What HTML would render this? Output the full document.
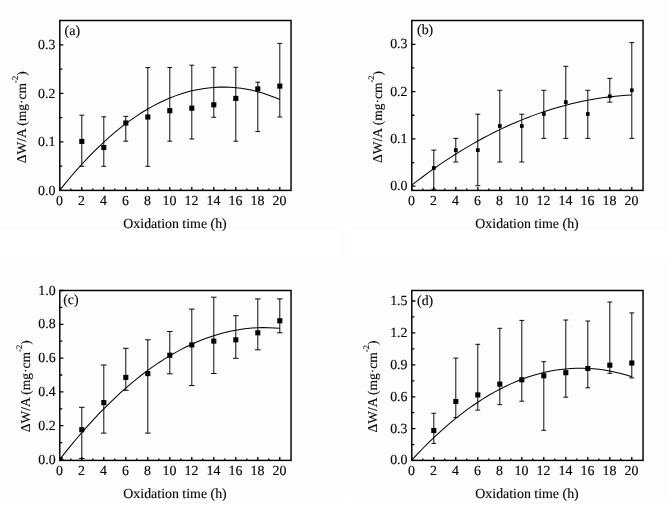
<!DOCTYPE html>
<html><head><meta charset="utf-8"><title>Oxidation kinetics</title>
<style>
html,body{margin:0;padding:0;background:#fff;}
svg{display:block;}
text{font-family:"Liberation Serif","Times New Roman",serif;font-size:13.9px;fill:#000;stroke:#000;stroke-width:0.12;text-rendering:geometricPrecision;}
.fr{fill:none;stroke:#000;stroke-width:1.45;}
.tk{stroke:#000;stroke-width:1.3;fill:none;}
.eb{stroke:#000;stroke-width:0.95;fill:none;}
.cv{stroke:#000;stroke-width:1.02;fill:none;}
.mk{fill:#000;}
</style></head><body>
<svg width="669" height="506" viewBox="0 0 669 506">
<rect x="0" y="0" width="669" height="506" fill="#ffffff"/>
<g fill="#fdfdfd" shape-rendering="crispEdges"><rect x="0" y="0" width="338" height="230"/><rect x="351" y="0" width="318" height="230"/><rect x="0" y="263" width="338" height="237"/><rect x="351" y="263" width="318" height="237"/><rect x="338" y="230" width="13" height="33" fill="#fefefe"/></g>

<g id="panel-a">
<path class="cv" d="M59.8 190.16 L65.3 183.33 L70.8 176.73 L76.3 170.37 L81.8 164.25 L87.3 158.35 L92.8 152.7 L98.3 147.27 L103.8 142.08 L109.3 137.12 L114.8 132.4 L120.3 127.91 L125.8 123.66 L131.3 119.63 L136.8 115.85 L142.3 112.29 L147.8 108.98 L153.3 105.89 L158.8 103.04 L164.3 100.42 L169.8 98.04 L175.3 95.89 L180.8 93.97 L186.3 92.29 L191.8 90.85 L197.3 89.63 L202.8 88.65 L208.3 87.91 L213.8 87.4 L219.3 87.12 L224.8 87.08 L230.3 87.27 L235.8 87.69 L241.3 88.35 L246.8 89.24 L252.3 90.37 L257.8 91.73 L263.3 93.32 L268.8 95.15 L274.3 97.21 L279.8 99.51"/>
<path class="eb" d="M81.8 115.2V166.3M79.4 115.2H84.2M79.4 166.3H84.2M103.8 116.8V166.3M101.4 116.8H106.2M101.4 166.3H106.2M125.8 116.4V141.2M123.4 116.4H128.2M123.4 141.2H128.2M147.8 67.6V166.3M145.4 67.6H150.2M145.4 166.3H150.2M169.8 67.5V141.2M167.4 67.5H172.2M167.4 141.2H172.2M191.8 65.2V139M189.4 65.2H194.2M189.4 139H194.2M213.8 67.3V117.3M211.4 67.3H216.2M211.4 117.3H216.2M235.8 67.3V141.2M233.4 67.3H238.2M233.4 141.2H238.2M257.8 82.2V131.6M255.4 82.2H260.2M255.4 131.6H260.2M279.8 43.4V117M277.4 43.4H282.2M277.4 117H282.2"/>
<rect class="mk" x="79.25" y="138.85" width="5.1" height="5.1"/>
<rect class="mk" x="101.25" y="144.95" width="5.1" height="5.1"/>
<rect class="mk" x="123.25" y="120.45" width="5.1" height="5.1"/>
<rect class="mk" x="145.25" y="114.45" width="5.1" height="5.1"/>
<rect class="mk" x="167.25" y="108.15" width="5.1" height="5.1"/>
<rect class="mk" x="189.25" y="105.65" width="5.1" height="5.1"/>
<rect class="mk" x="211.25" y="102.25" width="5.1" height="5.1"/>
<rect class="mk" x="233.25" y="95.85" width="5.1" height="5.1"/>
<rect class="mk" x="255.25" y="86.35" width="5.1" height="5.1"/>
<rect class="mk" x="277.25" y="83.55" width="5.1" height="5.1"/>
<path class="tk" d="M59.8 190.4H63.4M59.8 141.95H63.4M59.8 93.45H63.4M59.8 44.95H63.4M59.8 166.2H62.3M59.8 117.7H62.3M59.8 69.2H62.3M59.8 190.4V187M70.8 190.4V188.4M81.8 190.4V187M92.8 190.4V188.4M103.8 190.4V187M114.8 190.4V188.4M125.8 190.4V187M136.8 190.4V188.4M147.8 190.4V187M158.8 190.4V188.4M169.8 190.4V187M180.8 190.4V188.4M191.8 190.4V187M202.8 190.4V188.4M213.8 190.4V187M224.8 190.4V188.4M235.8 190.4V187M246.8 190.4V188.4M257.8 190.4V187M268.8 190.4V188.4M279.8 190.4V187"/>
<rect class="fr" x="59.8" y="20.5" width="231.25" height="169.9"/>
<text x="55.4" y="194.65" text-anchor="end">0.0</text>
<text x="55.4" y="146.2" text-anchor="end">0.1</text>
<text x="55.4" y="97.7" text-anchor="end">0.2</text>
<text x="55.4" y="49.2" text-anchor="end">0.3</text>
<text x="59.5" y="205.2" text-anchor="middle">0</text>
<text x="81.5" y="205.2" text-anchor="middle">2</text>
<text x="103.5" y="205.2" text-anchor="middle">4</text>
<text x="125.5" y="205.2" text-anchor="middle">6</text>
<text x="147.5" y="205.2" text-anchor="middle">8</text>
<text x="169.5" y="205.2" text-anchor="middle">10</text>
<text x="191.5" y="205.2" text-anchor="middle">12</text>
<text x="213.5" y="205.2" text-anchor="middle">14</text>
<text x="235.5" y="205.2" text-anchor="middle">16</text>
<text x="257.5" y="205.2" text-anchor="middle">18</text>
<text x="279.5" y="205.2" text-anchor="middle">20</text>
<text x="175.03" y="228" text-anchor="middle">Oxidation time (h)</text>
<text transform="translate(26 117.2) rotate(-90)" text-anchor="middle" style="font-size:13.5px">ΔW/A (mg·cm<tspan dy="-7.6" style="font-size:8.6px">-2</tspan><tspan dy="7.6">)</tspan></text>
<text x="64.6" y="34.8">(a)</text>
</g>
<g id="panel-b">
<path class="cv" d="M411.8 185.15 L417.3 180.9 L422.8 176.75 L428.3 172.7 L433.8 168.76 L439.3 164.93 L444.8 161.2 L450.3 157.57 L455.8 154.05 L461.3 150.64 L466.8 147.33 L472.3 144.12 L477.8 141.02 L483.3 138.02 L488.8 135.12 L494.3 132.32 L499.8 129.63 L505.3 127.04 L510.8 124.55 L516.3 122.17 L521.8 119.88 L527.3 117.7 L532.8 115.61 L538.3 113.63 L543.8 111.75 L549.3 109.96 L554.8 108.28 L560.3 106.7 L565.8 105.21 L571.3 103.83 L576.8 102.54 L582.3 101.35 L587.8 100.26 L593.3 99.27 L598.8 98.37 L604.3 97.58 L609.8 96.88 L615.3 96.27 L620.8 95.76 L626.3 95.35 L631.8 95.04"/>
<path class="eb" d="M433.8 150.1V189.3M431.3 150.1H436.3M431.3 189.3H436.3M455.8 138.4V162M453.3 138.4H458.3M453.3 162H458.3M477.8 114.2V185.7M475.3 114.2H480.3M475.3 185.7H480.3M499.8 90.3V162M497.3 90.3H502.3M497.3 162H502.3M521.8 114.2V162M519.3 114.2H524.3M519.3 162H524.3M543.8 90.3V138.4M541.3 90.3H546.3M541.3 138.4H546.3M565.8 66.3V138.4M563.3 66.3H568.3M563.3 138.4H568.3M587.8 90.3V138.4M585.3 90.3H590.3M585.3 138.4H590.3M609.8 78.4V102.1M607.3 78.4H612.3M607.3 102.1H612.3M631.8 42.6V138.4M629.3 42.6H634.3M629.3 138.4H634.3"/>
<rect class="mk" x="431.95" y="166.15" width="3.7" height="3.7"/>
<rect class="mk" x="453.95" y="148.25" width="3.7" height="3.7"/>
<rect class="mk" x="475.95" y="148.25" width="3.7" height="3.7"/>
<rect class="mk" x="497.95" y="124.15" width="3.7" height="3.7"/>
<rect class="mk" x="519.95" y="124.15" width="3.7" height="3.7"/>
<rect class="mk" x="541.95" y="112.15" width="3.7" height="3.7"/>
<rect class="mk" x="563.95" y="100.25" width="3.7" height="3.7"/>
<rect class="mk" x="585.95" y="112.15" width="3.7" height="3.7"/>
<rect class="mk" x="607.95" y="94.45" width="3.7" height="3.7"/>
<rect class="mk" x="629.95" y="88.45" width="3.7" height="3.7"/>
<path class="tk" d="M411.8 186.2H415.4M411.8 138.9H415.4M411.8 91.6H415.4M411.8 44.3H415.4M411.8 162.55H414.3M411.8 115.25H414.3M411.8 67.95H414.3M411.8 190.4V187M422.8 190.4V188.4M433.8 190.4V187M444.8 190.4V188.4M455.8 190.4V187M466.8 190.4V188.4M477.8 190.4V187M488.8 190.4V188.4M499.8 190.4V187M510.8 190.4V188.4M521.8 190.4V187M532.8 190.4V188.4M543.8 190.4V187M554.8 190.4V188.4M565.8 190.4V187M576.8 190.4V188.4M587.8 190.4V187M598.8 190.4V188.4M609.8 190.4V187M620.8 190.4V188.4M631.8 190.4V187"/>
<rect class="fr" x="411.8" y="20.5" width="231.25" height="169.9"/>
<text x="407.5" y="190.15" text-anchor="end">0.0</text>
<text x="407.5" y="142.85" text-anchor="end">0.1</text>
<text x="407.5" y="95.55" text-anchor="end">0.2</text>
<text x="407.5" y="48.25" text-anchor="end">0.3</text>
<text x="411.5" y="205.1" text-anchor="middle">0</text>
<text x="433.5" y="205.1" text-anchor="middle">2</text>
<text x="455.5" y="205.1" text-anchor="middle">4</text>
<text x="477.5" y="205.1" text-anchor="middle">6</text>
<text x="499.5" y="205.1" text-anchor="middle">8</text>
<text x="521.5" y="205.1" text-anchor="middle">10</text>
<text x="543.5" y="205.1" text-anchor="middle">12</text>
<text x="565.5" y="205.1" text-anchor="middle">14</text>
<text x="587.5" y="205.1" text-anchor="middle">16</text>
<text x="609.5" y="205.1" text-anchor="middle">18</text>
<text x="631.5" y="205.1" text-anchor="middle">20</text>
<text x="527.02" y="228" text-anchor="middle">Oxidation time (h)</text>
<text transform="translate(381.8 116.9) rotate(-90)" text-anchor="middle" style="font-size:13.5px">ΔW/A (mg·cm<tspan dy="-7.6" style="font-size:8.6px">-2</tspan><tspan dy="7.6">)</tspan></text>
<text x="417" y="34.3">(b)</text>
</g>
<g id="panel-c">
<path class="cv" d="M59.8 459.39 L65.3 452.4 L70.8 445.6 L76.3 438.99 L81.8 432.57 L87.3 426.34 L92.8 420.3 L98.3 414.45 L103.8 408.79 L109.3 403.33 L114.8 398.05 L120.3 392.96 L125.8 388.07 L131.3 383.36 L136.8 378.85 L142.3 374.52 L147.8 370.39 L153.3 366.45 L158.8 362.7 L164.3 359.13 L169.8 355.76 L175.3 352.58 L180.8 349.59 L186.3 346.79 L191.8 344.18 L197.3 341.76 L202.8 339.53 L208.3 337.5 L213.8 335.65 L219.3 333.99 L224.8 332.52 L230.3 331.25 L235.8 330.16 L241.3 329.27 L246.8 328.56 L252.3 328.05 L257.8 327.73 L263.3 327.59 L268.8 327.65 L274.3 327.9 L279.8 328.34"/>
<path class="eb" d="M81.8 407.3V458.5M79 407.3H84.6M79 458.5H84.6M103.8 365V433.1M101 365H106.6M101 433.1H106.6M125.8 348.3V390.3M123 348.3H128.6M123 390.3H128.6M147.8 339.8V433.1M145 339.8H150.6M145 433.1H150.6M169.8 331.5V373.8M167 331.5H172.6M167 373.8H172.6M191.8 309.1V385.6M189 309.1H194.6M189 385.6H194.6M213.8 297.2V373.5M211 297.2H216.6M211 373.5H216.6M235.8 315.7V358.3M233 315.7H238.6M233 358.3H238.6M257.8 298.9V349.8M255 298.9H260.6M255 349.8H260.6M279.8 298.9V332.8M277 298.9H282.6M277 332.8H282.6"/>
<rect class="mk" x="79.25" y="427.15" width="5.1" height="5.1"/>
<rect class="mk" x="101.25" y="400.05" width="5.1" height="5.1"/>
<rect class="mk" x="123.25" y="374.85" width="5.1" height="5.1"/>
<rect class="mk" x="145.25" y="371.05" width="5.1" height="5.1"/>
<rect class="mk" x="167.25" y="352.65" width="5.1" height="5.1"/>
<rect class="mk" x="189.25" y="342.35" width="5.1" height="5.1"/>
<rect class="mk" x="211.25" y="338.55" width="5.1" height="5.1"/>
<rect class="mk" x="233.25" y="337.25" width="5.1" height="5.1"/>
<rect class="mk" x="255.25" y="330.25" width="5.1" height="5.1"/>
<rect class="mk" x="277.25" y="318.25" width="5.1" height="5.1"/>
<rect class="mk" x="59.4" y="457.1" width="3.2" height="3.2"/>
<path class="tk" d="M59.8 459.5H63.4M59.8 425.7H63.4M59.8 391.9H63.4M59.8 358.1H63.4M59.8 324.3H63.4M59.8 290.5H63.4M59.8 442.6H62.3M59.8 408.8H62.3M59.8 375H62.3M59.8 341.2H62.3M59.8 307.4H62.3M59.8 460.4V457M70.8 460.4V458.4M81.8 460.4V457M92.8 460.4V458.4M103.8 460.4V457M114.8 460.4V458.4M125.8 460.4V457M136.8 460.4V458.4M147.8 460.4V457M158.8 460.4V458.4M169.8 460.4V457M180.8 460.4V458.4M191.8 460.4V457M202.8 460.4V458.4M213.8 460.4V457M224.8 460.4V458.4M235.8 460.4V457M246.8 460.4V458.4M257.8 460.4V457M268.8 460.4V458.4M279.8 460.4V457"/>
<rect class="fr" x="59.8" y="290.5" width="231.25" height="169.9"/>
<text x="55.6" y="463.5" text-anchor="end">0.0</text>
<text x="55.6" y="429.7" text-anchor="end">0.2</text>
<text x="55.6" y="395.9" text-anchor="end">0.4</text>
<text x="55.6" y="362.1" text-anchor="end">0.6</text>
<text x="55.6" y="328.3" text-anchor="end">0.8</text>
<text x="55.6" y="294.5" text-anchor="end">1.0</text>
<text x="59.5" y="475.1" text-anchor="middle">0</text>
<text x="81.5" y="475.1" text-anchor="middle">2</text>
<text x="103.5" y="475.1" text-anchor="middle">4</text>
<text x="125.5" y="475.1" text-anchor="middle">6</text>
<text x="147.5" y="475.1" text-anchor="middle">8</text>
<text x="169.5" y="475.1" text-anchor="middle">10</text>
<text x="191.5" y="475.1" text-anchor="middle">12</text>
<text x="213.5" y="475.1" text-anchor="middle">14</text>
<text x="235.5" y="475.1" text-anchor="middle">16</text>
<text x="257.5" y="475.1" text-anchor="middle">18</text>
<text x="279.5" y="475.1" text-anchor="middle">20</text>
<text x="175.03" y="498" text-anchor="middle">Oxidation time (h)</text>
<text transform="translate(29.9 386.2) rotate(-90)" text-anchor="middle" style="font-size:13.5px">ΔW/A (mg·cm<tspan dy="-7.6" style="font-size:8.6px">-2</tspan><tspan dy="7.6">)</tspan></text>
<text x="63.2" y="304.3">(c)</text>
</g>
<g id="panel-d">
<path class="cv" d="M411.8 460.08 L417.3 454.18 L422.8 448.48 L428.3 442.97 L433.8 437.66 L439.3 432.54 L444.8 427.62 L450.3 422.9 L455.8 418.37 L461.3 414.03 L466.8 409.9 L472.3 405.96 L477.8 402.21 L483.3 398.66 L488.8 395.31 L494.3 392.15 L499.8 389.18 L505.3 386.42 L510.8 383.85 L516.3 381.47 L521.8 379.29 L527.3 377.31 L532.8 375.52 L538.3 373.93 L543.8 372.53 L549.3 371.33 L554.8 370.32 L560.3 369.51 L565.8 368.9 L571.3 368.48 L576.8 368.26 L582.3 368.23 L587.8 368.4 L593.3 368.77 L598.8 369.33 L604.3 370.09 L609.8 371.04 L615.3 372.19 L620.8 373.53 L626.3 375.07 L631.8 376.8"/>
<path class="eb" d="M433.8 413.3V443.4M431.4 413.3H436.2M431.4 443.4H436.2M455.8 358.1V417.5M453.4 358.1H458.2M453.4 417.5H458.2M477.8 344.3V410.1M475.4 344.3H480.2M475.4 410.1H480.2M499.8 328.3V404.7M497.4 328.3H502.2M497.4 404.7H502.2M521.8 320.4V401.2M519.4 320.4H524.2M519.4 401.2H524.2M543.8 361.7V430.3M541.4 361.7H546.2M541.4 430.3H546.2M565.8 320V397.2M563.4 320H568.2M563.4 397.2H568.2M587.8 321V387.8M585.4 321H590.2M585.4 387.8H590.2M609.8 302V373.3M607.4 302H612.2M607.4 373.3H612.2M631.8 312.9V377.9M629.4 312.9H634.2M629.4 377.9H634.2"/>
<rect class="mk" x="431.25" y="427.95" width="5.1" height="5.1"/>
<rect class="mk" x="453.25" y="398.95" width="5.1" height="5.1"/>
<rect class="mk" x="475.25" y="392.35" width="5.1" height="5.1"/>
<rect class="mk" x="497.25" y="381.55" width="5.1" height="5.1"/>
<rect class="mk" x="519.25" y="377.25" width="5.1" height="5.1"/>
<rect class="mk" x="541.25" y="373.25" width="5.1" height="5.1"/>
<rect class="mk" x="563.25" y="370.15" width="5.1" height="5.1"/>
<rect class="mk" x="585.25" y="365.95" width="5.1" height="5.1"/>
<rect class="mk" x="607.25" y="362.65" width="5.1" height="5.1"/>
<rect class="mk" x="629.25" y="360.45" width="5.1" height="5.1"/>
<path class="tk" d="M411.8 460.3H415.4M411.8 428.7H415.4M411.8 396.8H415.4M411.8 364.85H415.4M411.8 332.9H415.4M411.8 301H415.4M411.8 444.6H414.3M411.8 412.7H414.3M411.8 380.8H414.3M411.8 348.9H414.3M411.8 316.95H414.3M411.8 460.4V457M422.8 460.4V458.4M433.8 460.4V457M444.8 460.4V458.4M455.8 460.4V457M466.8 460.4V458.4M477.8 460.4V457M488.8 460.4V458.4M499.8 460.4V457M510.8 460.4V458.4M521.8 460.4V457M532.8 460.4V458.4M543.8 460.4V457M554.8 460.4V458.4M565.8 460.4V457M576.8 460.4V458.4M587.8 460.4V457M598.8 460.4V458.4M609.8 460.4V457M620.8 460.4V458.4M631.8 460.4V457"/>
<rect class="fr" x="411.8" y="290.5" width="231.25" height="169.9"/>
<text x="407.5" y="464.3" text-anchor="end">0.0</text>
<text x="407.5" y="432.7" text-anchor="end">0.3</text>
<text x="407.5" y="400.8" text-anchor="end">0.6</text>
<text x="407.5" y="368.85" text-anchor="end">0.9</text>
<text x="407.5" y="336.9" text-anchor="end">1.2</text>
<text x="407.5" y="305" text-anchor="end">1.5</text>
<text x="411.5" y="475.1" text-anchor="middle">0</text>
<text x="433.5" y="475.1" text-anchor="middle">2</text>
<text x="455.5" y="475.1" text-anchor="middle">4</text>
<text x="477.5" y="475.1" text-anchor="middle">6</text>
<text x="499.5" y="475.1" text-anchor="middle">8</text>
<text x="521.5" y="475.1" text-anchor="middle">10</text>
<text x="543.5" y="475.1" text-anchor="middle">12</text>
<text x="565.5" y="475.1" text-anchor="middle">14</text>
<text x="587.5" y="475.1" text-anchor="middle">16</text>
<text x="609.5" y="475.1" text-anchor="middle">18</text>
<text x="631.5" y="475.1" text-anchor="middle">20</text>
<text x="527.02" y="498" text-anchor="middle">Oxidation time (h)</text>
<text transform="translate(377 386.5) rotate(-90)" text-anchor="middle" style="font-size:13.5px">ΔW/A (mg·cm<tspan dy="-7.6" style="font-size:8.6px">-2</tspan><tspan dy="7.6">)</tspan></text>
<text x="417" y="304.9">(d)</text>
</g>
</svg>
</body></html>
